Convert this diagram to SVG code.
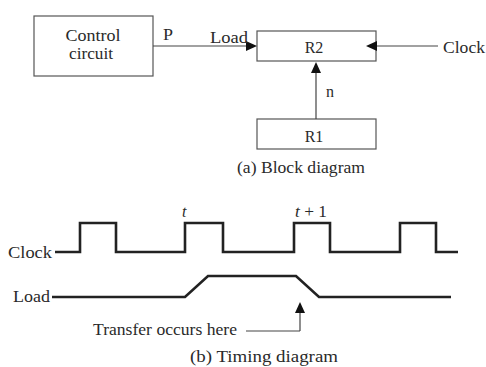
<svg xmlns="http://www.w3.org/2000/svg" width="486" height="367" viewBox="0 0 486 367">
<style>
text{font-family:"Liberation Serif","Times New Roman",serif;font-size:16px;fill:#2a2a2a}
.box{fill:#fff;stroke:#555;stroke-width:1.2}
.ln{fill:none;stroke:#444;stroke-width:1.2}
.wave{fill:none;stroke:#222;stroke-width:2.6;stroke-linejoin:miter}
.ah{fill:#111}
</style>
<rect width="486" height="367" fill="#fff"/>
<g id="control">
<rect class="box" x="34" y="16" width="119" height="60"/>
<text x="93" y="41" text-anchor="middle" textLength="55" lengthAdjust="spacingAndGlyphs">Control</text>
<text x="91" y="59" text-anchor="middle" textLength="44" lengthAdjust="spacingAndGlyphs">circuit</text>
</g>
<g id="R2">
<rect class="box" x="257" y="31" width="119" height="30"/>
<text x="314" y="53" text-anchor="middle">R2</text>
</g>
<g id="R1">
<rect class="box" x="257" y="119" width="119" height="30"/>
<text x="314" y="142" text-anchor="middle">R1</text>
</g>
<g id="connectors">
<line class="ln" x1="153" y1="46" x2="250" y2="46"/>
<polygon class="ah" points="257,46 246,41 246,51"/>
<line class="ln" x1="438" y1="46" x2="374" y2="46"/>
<polygon class="ah" points="366,46 377,41 377,51"/>
<line class="ln" x1="316" y1="119" x2="316" y2="70"/>
<polygon class="ah" points="316,62 311,73 321,73"/>
<line class="ln" x1="246" y1="331" x2="300" y2="331"/>
<line class="ln" x1="300" y1="331" x2="300" y2="310"/>
<polygon class="ah" points="300,302 295,313 305,313"/>
</g>
<g id="labels">
<text x="163" y="40" textLength="10" lengthAdjust="spacingAndGlyphs">P</text>
<text x="210" y="43" textLength="38" lengthAdjust="spacingAndGlyphs">Load</text>
<text x="443" y="53" textLength="42" lengthAdjust="spacingAndGlyphs">Clock</text>
<text x="326" y="97">n</text>
<text x="237" y="173" textLength="128" lengthAdjust="spacingAndGlyphs">(a) Block diagram</text>
<text x="8" y="258" textLength="44" lengthAdjust="spacingAndGlyphs">Clock</text>
<text x="13" y="302" textLength="37" lengthAdjust="spacingAndGlyphs">Load</text>
<text x="182" y="217" font-style="italic">t</text>
<text x="295" y="217" textLength="32" lengthAdjust="spacingAndGlyphs"><tspan font-style="italic">t</tspan> + 1</text>
<text x="93" y="335" textLength="144" lengthAdjust="spacingAndGlyphs">Transfer occurs here</text>
<text x="190" y="362" textLength="148" lengthAdjust="spacingAndGlyphs">(b) Timing diagram</text>
</g>
<g id="waveforms">
<polyline class="wave" points="55,252 80,252 80,223 116,223 116,252 185,252 185,223 223,223 223,252 294,252 294,223 330,223 330,252 400,252 400,223 436,223 436,252 458,252"/>
<polyline class="wave" points="52,297 185,297 208,276 296,276 319,297 451,297"/>
</g>
</svg>
